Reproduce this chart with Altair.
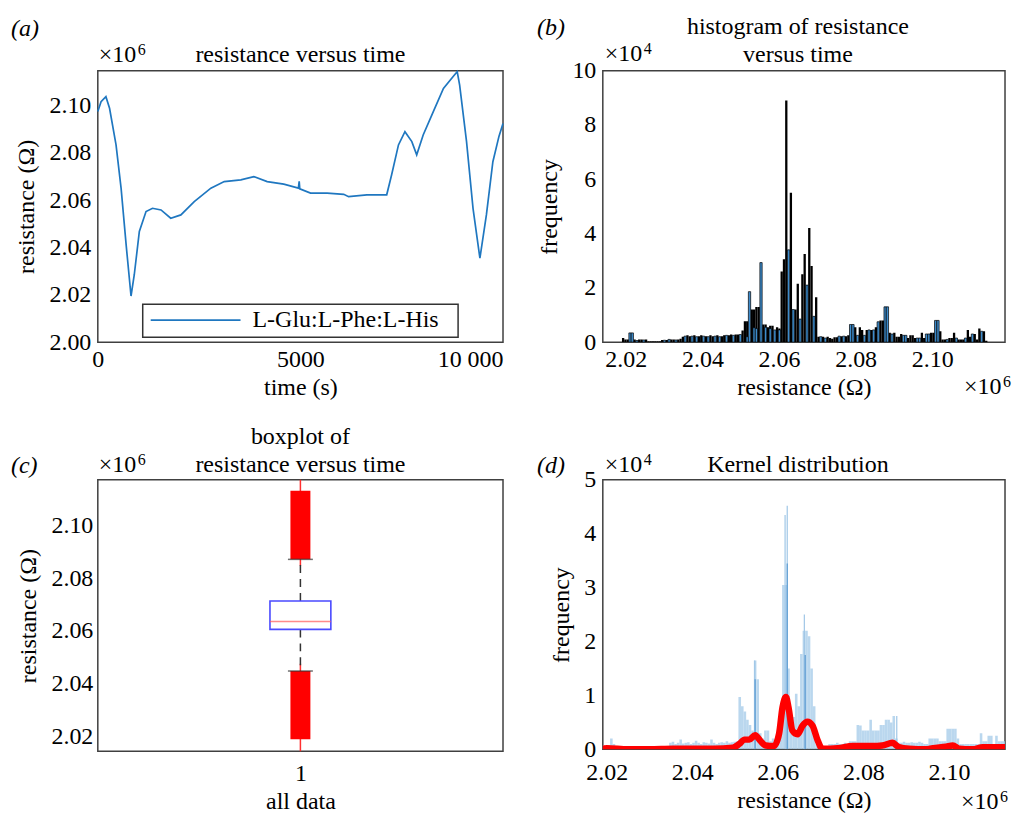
import altair as alt
import pandas as pd

FONT = "Liberation Serif"
BLUE = "#1f77c0"

# ---------------- (a) resistance versus time (x10^6 ohm) ----------------
time_s = [0, 80, 200, 290, 450, 575, 700, 820, 900, 1025, 1190, 1350, 1560, 1800,
          2050, 2380, 2790, 3120, 3530, 3850, 4180, 4590, 4950, 4970, 4985, 5250,
          5660, 6070, 6190, 6640, 7130, 7250, 7420, 7580, 7750, 7870, 8030, 8280,
          8530, 8770, 8870, 8930, 9100, 9260, 9430, 9590, 9750, 9900, 10000]
res_a = [2.0975, 2.1017, 2.1038, 2.0989, 2.0834, 2.0650, 2.0410, 2.0195, 2.0285,
         2.0468, 2.0552, 2.0566, 2.0559, 2.0524, 2.0538, 2.0594, 2.0651, 2.0679,
         2.0686, 2.0700, 2.0679, 2.0668, 2.0651, 2.0680, 2.0648, 2.0630, 2.0630,
         2.0625, 2.0615, 2.0623, 2.0623, 2.0707, 2.0834, 2.0890, 2.0848, 2.0792,
         2.0876, 2.0975, 2.1073, 2.1123, 2.1144, 2.1087, 2.0848, 2.0566, 2.0355,
         2.0538, 2.0763, 2.0870, 2.0925]
legend_label = "L-Glu:L-Phe:L-His"

# ---------------- (b) histogram (x10^4 counts) ----------------
BIN_START = 2.019
BIN_WIDTH = 0.0006
hist_black = [
    0.15, 0.10, 0.10, 0, 0, 0.10, 0, 0.10, 0.10, 0,
    0.10, 0.03, 0.03, 0.03, 0.03, 0.03, 0.03, 0.08, 0, 0.08,
    0, 0.10, 0.10, 0, 0.10, 0.12, 0.20, 0, 0.25, 0.22,
    0, 0.25, 0, 0.22, 0.25, 0, 0.22, 0, 0.25, 0.22,
    0, 0.25, 0, 0.22, 0.25, 0, 0.25, 0.28, 0, 0.28,
    0.28, 0, 0.43, 0.77, 0.77, 0, 1.20, 1.20, 1.29, 1.29,
    0, 0.65, 0.65, 0.55, 0.60, 0.60, 0, 0.55, 0.50, 2.60,
    3.05, 8.90, 0, 5.50, 0, 1.20, 2.15, 0, 2.50, 3.25,
    0, 4.20, 2.80, 0, 1.65, 0.20, 0, 0.20, 0, 0.20,
    0.15, 0.12, 0.18, 0.18, 0, 0.22, 0, 0.22, 0.25, 0,
    0, 0.55, 0, 0.55, 0.45, 0, 0.45, 0, 0.45, 0,
    0.55, 0, 0.80, 0.80, 0, 0, 0.35, 0, 0.35, 0.20,
    0.20, 0.30, 0, 0, 0.15, 0.25, 0.25, 0.15, 0, 0,
    0.35, 0.15, 0, 0, 0.35, 0.35, 0, 0, 0.40, 0.10,
    0.10, 0, 0.15, 0.15, 0.35, 0, 0.10, 0.10, 0.10, 0,
    0.45, 0.20, 0, 0.30, 0.10, 0.50, 0, 0.40, 0.05]
hist_blue = [
    0, 0, 0, 0.34, 0.34, 0, 0.06, 0, 0, 0.08,
    0, 0, 0, 0, 0, 0, 0, 0, 0.07, 0,
    0.10, 0, 0, 0.08, 0, 0, 0, 0.22, 0, 0,
    0.22, 0, 0.20, 0, 0, 0.22, 0, 0.20, 0, 0,
    0.22, 0, 0.20, 0, 0, 0.25, 0, 0, 0.25, 0,
    0, 0.28, 0, 0, 0.20, 1.86, 0, 0.53, 0.50, 0,
    2.93, 0, 0.55, 0, 0.50, 0, 0.45, 0, 0.45, 0,
    0, 0, 3.40, 0, 1.20, 0, 0, 0.85, 0, 0,
    2.10, 0, 0, 0.95, 0, 0, 0.20, 0, 0.15, 0,
    0, 0, 0, 0, 0.22, 0, 0.22, 0, 0, 0.65,
    0.65, 0, 0.25, 0, 0, 0.25, 0, 0.45, 0, 0.45,
    0, 0.75, 0, 0, 1.30, 1.30, 0, 0.30, 0, 0,
    0, 0, 0.25, 0.25, 0, 0, 0, 0, 0.15, 0.15,
    0, 0, 0.30, 0.30, 0, 0, 0.80, 0.80, 0, 0,
    0, 0.10, 0, 0, 0, 0.15, 0, 0, 0, 0.15,
    0, 0, 0.30, 0, 0, 0, 0.40, 0, 0]

# ---------------- (c) boxplot (x10^6 ohm) ----------------
box_q1, box_median, box_q3 = 2.0606, 2.0636, 2.0714
whisker_lo, whisker_hi = 2.0448, 2.0872
flier_hi = (2.0872, 2.1133)
flier_lo = (2.0189, 2.0448)
flier_marks_hi = (2.0848, 2.1180)
flier_marks_lo = (2.0140, 2.0476)

# ---------------- (d) kernel distribution (x10^4) ----------------
dens_bins = [
    0.08, 0.06, 0.08, 0.20, 0.10, 0.04, 0.03, 0.05, 0.04, 0.03,
    0.04, 0.05, 0.03, 0.04, 0.04, 0.03, 0.05, 0.04, 0.03, 0.04,
    0.05, 0.04, 0.03, 0.04, 0.05, 0.04, 0.12, 0.14, 0.10, 0.12,
    0.18, 0.11, 0.12, 0.13, 0.10, 0.12, 0.16, 0.12, 0.10, 0.13,
    0.12, 0.11, 0.18, 0.12, 0.10, 0.12, 0.13, 0.12, 0.15, 0.12,
    0.13, 0.14, 0.15, 0.97, 0.80, 0.70, 0.55, 0.45, 0.35, 1.65,
    1.30, 0.30, 0.20, 0.35, 0.35, 0.15, 0.20, 0.15, 0.30, 0.60,
    3.05, 3.05, 1.50, 0.55, 0.60, 1.03, 0.80, 1.77, 2.20, 2.20,
    2.10, 1.50, 0.80, 0.10, 0.08, 0.05, 0.05, 0.05, 0.10, 0.10,
    0.10, 0.12, 0.10, 0.10, 0.12, 0.10, 0.15, 0.15, 0.15, 0.45,
    0.44, 0.35, 0.35, 0.35, 0.55, 0.35, 0.35, 0.35, 0.45, 0.45,
    0.55, 0.55, 0.50, 0.62, 0.20, 0.12, 0.12, 0.14, 0.12, 0.12,
    0.13, 0.12, 0.12, 0.14, 0.12, 0.10, 0.10, 0.20, 0.20, 0.20,
    0.20, 0.15, 0.15, 0.15, 0.38, 0.38, 0.38, 0.38, 0.20, 0.10,
    0.10, 0.10, 0.10, 0.10, 0.10, 0.10, 0.10, 0.30, 0.15, 0.15,
    0.25, 0.25, 0.10, 0.25, 0.15, 0.15, 0.15, 0.10, 0.10]
spike_v = [2.0546, 2.0617, 2.0622, 2.0662, 2.0878]
spike_h = [1.65, 4.35, 4.52, 2.50, 0.62]
dark_v = [2.0547, 2.0622, 2.0664]
dark_h = [1.30, 3.45, 1.75]
kde_v = [2.0190, 2.0200, 2.0250, 2.0300, 2.0355, 2.0450, 2.0495, 2.0510, 2.0522, 2.0533,
         2.0547, 2.0560, 2.0572, 2.0591, 2.0603, 2.0611, 2.0619, 2.0625, 2.0634, 2.0646,
         2.0658, 2.0669, 2.0681, 2.0693, 2.0704, 2.0740, 2.0775, 2.0821, 2.0844, 2.0868,
         2.0883, 2.0907, 2.0946, 2.0962, 2.0993, 2.1009, 2.1024, 2.1055, 2.1079, 2.1131]
kde_h = [0.01, 0.02, 0.00, 0.00, 0.01, 0.01, 0.03, 0.10, 0.18, 0.18,
         0.26, 0.15, 0.07, 0.06, 0.29, 0.78, 0.97, 0.78, 0.35, 0.28,
         0.44, 0.51, 0.44, 0.17, 0.01, 0.02, 0.06, 0.06, 0.07, 0.12,
         0.04, 0.01, 0.00, 0.02, 0.05, 0.07, 0.01, 0.00, 0.04, 0.04]

# ---------------- helpers ----------------
ONE = pd.DataFrame({"k": [0]})


def label(s, x, y, size=24, style="normal", align="left"):
    return alt.Chart(ONE).mark_text(
        text=s, font=FONT, fontSize=size, fontStyle=style, align=align,
        baseline="alphabetic", color="black"
    ).encode(x=alt.value(x), y=alt.value(y))


def sci(exp, x, y):
    return label("×10", x, y) + label(exp, x + 39, y - 7, size=16)


def res_axis(title="resistance (Ω)", pad=5):
    return alt.Axis(values=[2.02, 2.04, 2.06, 2.08, 2.10], format=".2f", title=title,
                    labelPadding=pad)


edges_lo = [BIN_START + BIN_WIDTH * i for i in range(len(hist_black))]
edges_hi = [BIN_START + BIN_WIDTH * (i + 1) for i in range(len(hist_black))]

# ---------------- panel A ----------------
WA, HA = 406, 272
df_a = pd.DataFrame({"t": time_s, "r": res_a})
xa = alt.X("t:Q", scale=alt.Scale(domain=[0, 10000], nice=False),
           axis=alt.Axis(values=[0, 5000, 10000], format="d", title="time (s)",
                         labelExpr="datum.value == 10000 ? '10 000' : datum.label",
                         labelAlign={"condition": {"test": "datum.value == 10000", "value": "right"},
                                     "value": "center"}))
ya = alt.Y("r:Q", scale=alt.Scale(domain=[2.0, 2.1148], nice=False, zero=False),
           axis=alt.Axis(values=[2.00, 2.02, 2.04, 2.06, 2.08, 2.10], format=".2f",
                         title="resistance (Ω)"))
line_a = alt.Chart(df_a).mark_line(color=BLUE, strokeWidth=1.7).encode(x=xa, y=ya)
leg_box = alt.Chart(ONE).mark_rect(fill="white", stroke="#333333", strokeWidth=1.5).encode(
    x=alt.value(45), x2=alt.value(361), y=alt.value(234), y2=alt.value(267))
leg_line = alt.Chart(ONE).mark_rule(color=BLUE, strokeWidth=1.7).encode(
    x=alt.value(53), x2=alt.value(143), y=alt.value(250))
leg_text = label(legend_label, 155, 257)
A = alt.layer(line_a, leg_box, leg_line, leg_text, sci("6", 1, -9),
              label("(a)", -87, -35, style="italic"),
              label("resistance versus time", WA / 2, -9, align="center")).properties(
    width=WA, height=HA)

# ---------------- panel B ----------------
WB, HB = 403, 272
XB = [2.014, 2.119]
df_b = pd.DataFrame({"lo": edges_lo, "hi": edges_hi, "black": hist_black, "blue": hist_blue})
xb = alt.X("lo:Q", scale=alt.Scale(domain=XB, nice=False, zero=False), axis=res_axis())
yb = alt.Y("black:Q", scale=alt.Scale(domain=[0, 10], nice=False),
           axis=alt.Axis(values=[0, 2, 4, 6, 8, 10], format="d", title="frequency"))
bars_k = alt.Chart(df_b).transform_filter("datum.black > 0").mark_rect(
    color="black", clip=True).encode(x=xb, x2="hi:Q", y=yb, y2=alt.datum(0))
bars_b = alt.Chart(df_b).transform_filter("datum.blue > 0").mark_rect(
    fill="#3d8ccc", stroke="black", strokeWidth=0.7, clip=True).encode(
    x=xb, x2="hi:Q", y=alt.Y("blue:Q"), y2=alt.datum(0))
B = alt.layer(bars_k, bars_b, sci("4", 2, -10), sci("6", 362, 324),
              label("(b)", -66, -36, style="italic"),
              label("histogram of resistance", WB / 2 - 6, -37, align="center"),
              label("versus time", WB / 2 - 6, -9, align="center")).properties(
    width=WB, height=HB)

# ---------------- panel C ----------------
WC, HC = 406, 272
yc_scale = alt.Scale(domain=[2.0143, 2.1174], nice=False, zero=False)
xc = alt.X("x:Q", scale=alt.Scale(domain=[0.5, 1.5], nice=False),
           axis=alt.Axis(values=[1], format="d", title="all data", labelPadding=10))
df_fl = pd.DataFrame({"x": [1, 1], "lo": [flier_lo[0], flier_hi[0]], "hi": [flier_lo[1], flier_hi[1]],
                      "mlo": [flier_marks_lo[0], flier_marks_hi[0]], "mhi": [flier_marks_lo[1], flier_marks_hi[1]]})
thin = alt.Chart(df_fl).mark_rule(color="#ff3030", strokeWidth=1.5, clip=True).encode(
    x=xc, y=alt.Y("mlo:Q", scale=yc_scale, axis=res_axis()), y2="mhi:Q")
blocks = alt.Chart(df_fl).mark_bar(color="#ff0000", size=20).encode(
    x=xc, y=alt.Y("lo:Q", scale=yc_scale), y2="hi:Q")
df_wh = pd.DataFrame({"x": [1, 1], "a": [box_q3, box_q1], "b": [whisker_hi, whisker_lo]})
whisk = alt.Chart(df_wh).mark_rule(color="#333333", strokeWidth=1.5, strokeDash=[8, 6]).encode(
    x=xc, y=alt.Y("a:Q", scale=yc_scale), y2="b:Q")
caps = alt.Chart(df_wh).mark_tick(color="#333333", size=25, thickness=1.5, orient="horizontal").encode(
    x=xc, y=alt.Y("b:Q", scale=yc_scale))
df_box = pd.DataFrame({"x": [1], "q1": [box_q1], "q3": [box_q3], "med": [box_median]})
box = alt.Chart(df_box).mark_bar(size=61, fill="white", stroke="#4a4aff", strokeWidth=1.6).encode(
    x=xc, y=alt.Y("q1:Q", scale=yc_scale), y2="q3:Q")
med = alt.Chart(df_box).mark_tick(color="#ff5a5a", size=61, thickness=1.5, orient="horizontal").encode(
    x=xc, y=alt.Y("med:Q", scale=yc_scale))
C = alt.layer(thin, blocks, whisk, box, med, caps, sci("6", 1, -8),
              label("(c)", -87, -7, style="italic"),
              label("boxplot of", WC / 2, -36, align="center"),
              label("resistance versus time", WC / 2, -8, align="center")).properties(
    width=WC, height=HC)

# ---------------- panel D ----------------
WD, HD = 403, 270
XD = [2.0191, 2.1131]
n_d = len(dens_bins)
df_d = pd.DataFrame({"lo": edges_lo[:n_d], "hi": edges_hi[:n_d], "h": dens_bins})
xd = alt.X("lo:Q", scale=alt.Scale(domain=XD, nice=False, zero=False), axis=res_axis(pad=11))
yd_scale = alt.Scale(domain=[0, 5], nice=False)
yd = alt.Y("h:Q", scale=yd_scale,
           axis=alt.Axis(values=[0, 1, 2, 3, 4, 5], format="d", title="frequency"))
dbars = alt.Chart(df_d).mark_rect(color="#a9cdea", opacity=0.8, clip=True).encode(
    x=xd, x2="hi:Q", y=yd, y2=alt.datum(0))
df_sp = pd.DataFrame({"v": spike_v, "h": spike_h})
spikes = alt.Chart(df_sp).mark_rule(color="#9fc6e6", strokeWidth=1.2, clip=True).encode(
    x=alt.X("v:Q", scale=alt.Scale(domain=XD, nice=False, zero=False)),
    y=alt.Y("h:Q", scale=yd_scale), y2=alt.datum(0))
df_dk = pd.DataFrame({"v": dark_v, "h": dark_h})
darks = alt.Chart(df_dk).mark_rule(color="#5b9bd3", strokeWidth=1.2, clip=True).encode(
    x=alt.X("v:Q", scale=alt.Scale(domain=XD, nice=False, zero=False)),
    y=alt.Y("h:Q", scale=yd_scale), y2=alt.datum(0))
df_k = pd.DataFrame({"v": kde_v, "h": kde_h})
kde = alt.Chart(df_k).mark_line(color="#ff0000", strokeWidth=6.5, interpolate="monotone",
                                strokeCap="round", strokeJoin="round", clip=True).encode(
    x=alt.X("v:Q", scale=alt.Scale(domain=XD, nice=False, zero=False)),
    y=alt.Y("h:Q", scale=yd_scale))
D = alt.layer(dbars, spikes, darks, kde, sci("4", 2, -8), sci("6", 359, 330),
              label("(d)", -66, -7, style="italic"),
              label("Kernel distribution", WD / 2 - 6, -8, align="center")).properties(
    width=WD, height=HD)

chart = alt.concat(A, B, C, D, columns=2, spacing={"row": 138, "column": 100},
                   bounds="flush").properties(
    padding={"left": 10, "top": 13, "right": 0, "bottom": 0}, background="white"
).configure_view(stroke="#404040", strokeWidth=1.5).configure_axis(
    labelFont=FONT, titleFont=FONT, labelFontSize=24, titleFontSize=24,
    titleFontWeight="normal", labelColor="black", titleColor="black",
    domain=False, ticks=False, grid=False, labelPadding=7
).configure_axisLeft(titlePadding=10).configure_axisBottom(labelPadding=5, titlePadding=4)

chart.save("out.html", embed_options={"renderer": "svg", "actions": False})
